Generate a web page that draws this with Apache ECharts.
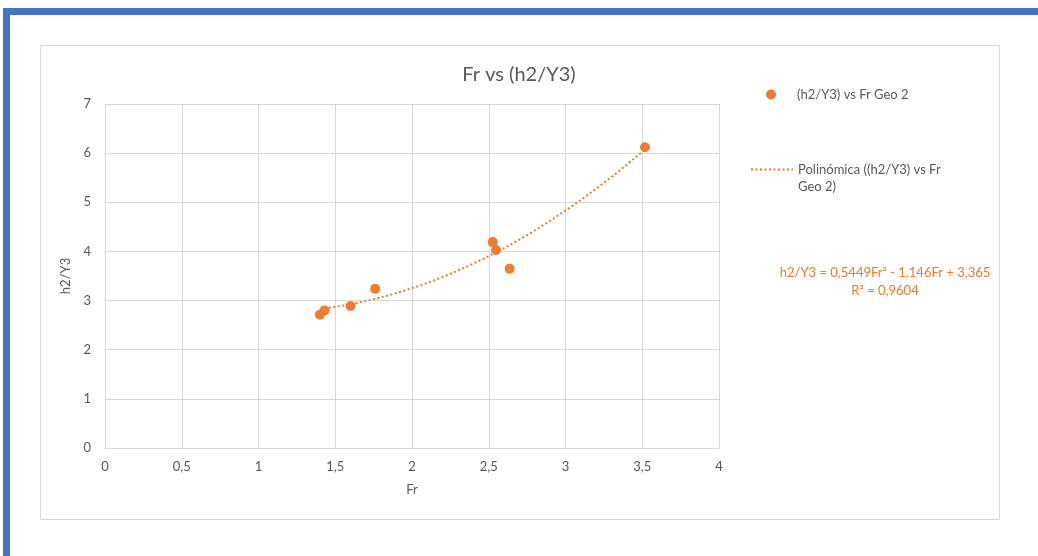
<!DOCTYPE html>
<html>
<head>
<meta charset="utf-8">
<script src="https://cdn.jsdelivr.net/npm/echarts@6/dist/echarts.min.js"></script>
<style>
  html, body { margin: 0; padding: 0; background: #ffffff; }
  #chart { width: 1038px; height: 556px; }
</style>
</head>
<body>
<div id="chart"></div>
<script>
// Measured points: Froude number vs h2/Y3 (Geo 2)
const frValues = [1.40, 1.43, 1.60, 1.76, 2.526, 2.547, 2.636, 3.518];
const h2y3Values = [2.71, 2.80, 2.89, 3.24, 4.19, 4.03, 3.65, 6.12];

// Polynomial trendline coefficients (a·Fr² + b·Fr + c) and its R²
const trendCoeffs = [0.5449, -1.146, 3.365];
const trendR2 = 0.9604;

// Axis ticks
const xTicks = [0, 0.5, 1, 1.5, 2, 2.5, 3, 3.5, 4];
const yTicks = [0, 1, 2, 3, 4, 5, 6, 7];

const scatterName = '(h2/Y3) vs Fr Geo 2';
const trendName = 'Polinómica ((h2/Y3) vs Fr Geo 2)';
const ORANGE = '#ED7D31';
const GREY_TEXT = '#595959';
const GRID = '#d9d9d9';
const FONT = 'Lato, "Open Sans", sans-serif';

const fmt = v => String(v).replace('.', ',');

// Trendline sampled across the measured Fr range
const xMin = Math.min(...frValues), xMax = Math.max(...frValues);
const trendData = [];
for (let i = 0; i <= 60; i++) {
  const x = xMin + (xMax - xMin) * i / 60;
  trendData.push([x, trendCoeffs[0] * x * x + trendCoeffs[1] * x + trendCoeffs[2]]);
}

const eqText = 'h2/Y3 = ' + fmt(trendCoeffs[0]) + 'Fr² - ' + fmt(Math.abs(trendCoeffs[1])) +
  'Fr + ' + fmt(trendCoeffs[2]) + '\nR² = ' + fmt(trendR2);

const chart = echarts.init(document.getElementById('chart'), null, { renderer: 'canvas' });

chart.setOption({
  animation: false,
  backgroundColor: '#ffffff',
  textStyle: { fontFamily: FONT },
  title: {
    text: 'Fr vs (h2/Y3)',
    left: 'center', top: 60,
    textStyle: { fontFamily: FONT, fontSize: 20, fontWeight: 'normal', color: GREY_TEXT }
  },
  graphic: [
    // page frame
    { type: 'rect', shape: { x: 3, y: 8, width: 1040, height: 7 }, style: { fill: '#4472C4' }, silent: true },
    { type: 'rect', shape: { x: 3, y: 8, width: 7, height: 560 }, style: { fill: '#4472C4' }, silent: true },
    // chart area border
    { type: 'rect', shape: { x: 40.5, y: 45.5, width: 959, height: 474 }, style: { fill: 'none', stroke: GRID, lineWidth: 1 }, silent: true, z: -1 },
    // trendline equation
    {
      type: 'text', x: 885, y: 264,
      style: {
        text: eqText, fill: ORANGE, font: '13px ' + FONT,
        align: 'center', verticalAlign: 'top', lineHeight: 18
      },
      silent: true
    }
  ],
  legend: [
    {
      data: [scatterName],
      left: 761, top: 83, orient: 'vertical',
      itemWidth: 42, itemHeight: 10,
      textStyle: { color: GREY_TEXT, fontSize: 13, fontFamily: FONT }
    },
    {
      data: [trendName],
      left: 745, top: 139, orient: 'vertical',
      itemWidth: 42, itemHeight: 14,
      itemStyle: { opacity: 0 },
      formatter: () => '\nPolinómica ((h2/Y3) vs Fr\nGeo 2)',
      textStyle: { color: GREY_TEXT, fontSize: 13, fontFamily: FONT, lineHeight: 17 }
    }
  ],
  grid: { left: 105, right: 319, top: 104, bottom: 108, containLabel: false },
  xAxis: {
    type: 'value', min: xTicks[0], max: xTicks[xTicks.length - 1], interval: 0.5,
    name: 'Fr', nameLocation: 'middle', nameGap: 35,
    nameTextStyle: { color: GREY_TEXT, fontSize: 13, fontFamily: FONT },
    axisLine: { show: true, lineStyle: { color: GRID, width: 1 } },
    axisTick: { show: false },
    axisLabel: { color: GREY_TEXT, fontSize: 13, fontFamily: FONT, margin: 12, formatter: v => fmt(v) },
    splitLine: { show: true, lineStyle: { color: GRID, width: 1 } }
  },
  yAxis: {
    type: 'value', min: yTicks[0], max: yTicks[yTicks.length - 1], interval: 1,
    name: 'h2/Y3', nameLocation: 'middle', nameGap: 28, nameRotate: 90,
    nameTextStyle: { color: GREY_TEXT, fontSize: 13, fontFamily: FONT },
    axisLine: { show: false },
    axisTick: { show: false },
    axisLabel: { color: GREY_TEXT, fontSize: 13, fontFamily: FONT, margin: 14, formatter: v => fmt(v) },
    splitLine: { show: true, lineStyle: { color: GRID, width: 1 } }
  },
  series: [
    {
      name: trendName, type: 'line', data: trendData,
      showSymbol: false, symbol: 'none', smooth: false,
      lineStyle: { color: ORANGE, width: 2, type: [2, 2.5] },
      itemStyle: { color: ORANGE },
      z: 2
    },
    {
      name: scatterName, type: 'scatter',
      data: frValues.map((x, i) => [x, h2y3Values[i]]),
      symbol: 'circle', symbolSize: 10,
      itemStyle: { color: ORANGE, opacity: 1 },
      z: 3
    }
  ]
});
</script>
</body>
</html>
